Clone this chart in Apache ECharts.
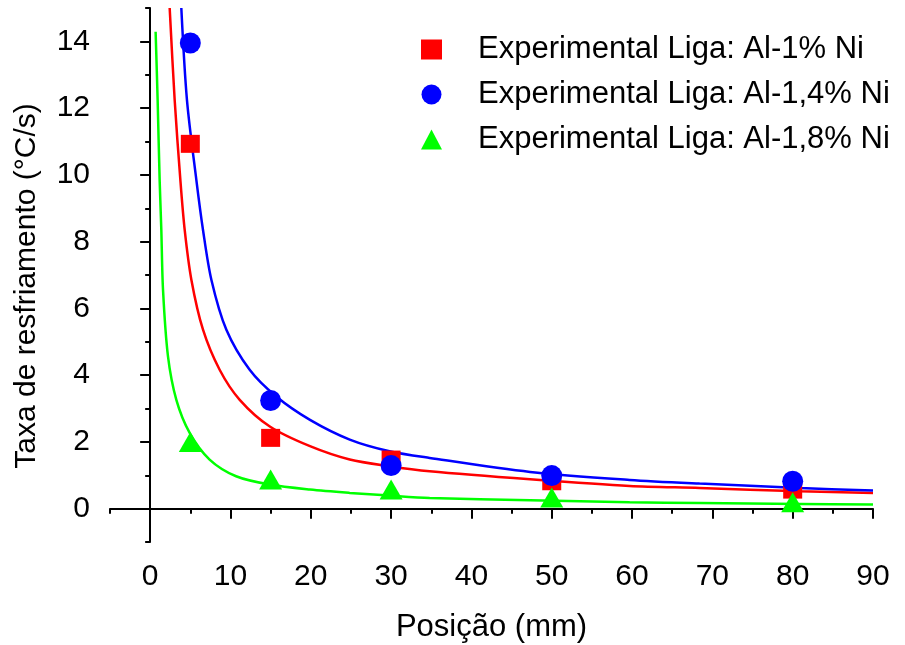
<!DOCTYPE html>
<html>
<head>
<meta charset="utf-8">
<script src="https://cdn.jsdelivr.net/npm/echarts@6/dist/echarts.min.js"></script>
<style>
  html, body { margin: 0; padding: 0; background: #fff; }
  #chart { width: 905px; height: 645px; }
</style>
</head>
<body>
<div id="chart"></div>
<script>
// pontos experimentais (posição em mm)
var positions = [5, 15, 30, 50, 80];
var rate1 = [10.93, 2.12, 1.47, 0.82, 0.57];   // Al-1% Ni
var rate14 = [13.95, 3.24, 1.29, 0.99, 0.82];  // Al-1,4% Ni
var rate18 = [2.0, 0.87, 0.57, 0.33, 0.19];    // Al-1,8% Ni

// curvas ajustadas
var fit1X = [2.43, 3.05, 3.76, 4.3, 5.13, 6.58, 8.65, 11.15, 14.9, 19.9, 24.85, 29.8, 34.8, 47.3, 59.7, 68.4, 80.9, 90];
var fit1Y = [15, 12.25, 9.85, 8.35, 6.86, 5.36, 4.16, 3.26, 2.46, 1.87, 1.47, 1.27, 1.12, 0.88, 0.68, 0.62, 0.52, 0.47];
var fit14X = [3.88, 4.58, 5.75, 6.58, 7.62, 9.49, 12.39, 15.7, 19.9, 24.85, 29.8, 34.8, 47.3, 59.7, 68.4, 80.9, 90];
var fit14Y = [15, 12.25, 9.85, 8.35, 6.86, 5.36, 4.16, 3.36, 2.66, 2.07, 1.72, 1.52, 1.1, 0.86, 0.75, 0.62, 0.54];
var fit18X = [0.68, 0.93, 1.18, 1.39, 1.6, 2.22, 3.26, 4.92, 7.4, 10.7, 14.9, 19.9, 24.85, 29.8, 34.8, 47.3, 59.7, 68.4, 80.9, 90];
var fit18Y = [14.29, 12.25, 9.85, 8.35, 6.56, 4.56, 3.26, 2.27, 1.47, 0.97, 0.72, 0.57, 0.47, 0.39, 0.32, 0.25, 0.19, 0.17, 0.14, 0.12];

var xMajorTicks = [0, 10, 20, 30, 40, 50, 60, 70, 80, 90];
var yMajorTicks = [0, 2, 4, 6, 8, 10, 12, 14];

var names = ['Experimental Liga: Al-1% Ni', 'Experimental Liga: Al-1,4% Ni', 'Experimental Liga: Al-1,8% Ni'];
var colors = ['#ff0000', '#0000ff', '#00ff00'];

function pairs(xs, ys) {
  return xs.map(function (x, i) { return [x, ys[i]]; });
}

var font = 'Liberation Sans, Arial, sans-serif';
var myChart = echarts.init(document.getElementById('chart'));

var axisLineStyle = { color: '#000', width: 2 };

var option = {
  animation: false,
  backgroundColor: '#fff',
  grid: { left: 110, right: 32, top: 8, bottom: 103, outerBoundsMode: 'none' },
  legend: {
    left: 416,
    top: 29,
    orient: 'vertical',
    itemWidth: 21,
    itemHeight: 20,
    itemGap: 14,
    data: [
      { name: names[0], icon: 'rect' },
      { name: names[1], icon: 'circle' },
      { name: names[2], icon: 'triangle' }
    ],
    textStyle: { fontFamily: font, fontSize: 31, color: '#000', lineHeight: 31, padding: [0, 0, 0, 31] }
  },
  xAxis: [
    {
      type: 'value', min: -5, max: 90, position: 'bottom',
      name: 'Posição (mm)', nameLocation: 'middle', nameGap: 70,
      nameTextStyle: { fontFamily: font, fontSize: 31, color: '#000' },
      axisLine: { lineStyle: axisLineStyle },
      axisTick: { customValues: xMajorTicks, length: 10, lineStyle: { width: 2, color: '#000' } },
      axisLabel: { customValues: xMajorTicks, fontFamily: font, fontSize: 30, color: '#000', margin: 20 },
      splitLine: { show: false }
    },
    {
      type: 'value', min: -5, max: 90, interval: 5, position: 'bottom', gridIndex: 0,
      axisLine: { show: false },
      axisTick: { length: 5, lineStyle: { width: 2, color: '#000' } },
      axisLabel: { show: false },
      splitLine: { show: false }
    }
  ],
  yAxis: [
    {
      type: 'value', min: -1, max: 15, position: 'left',
      name: 'Taxa de resfriamento (°C/s)', nameLocation: 'middle', nameGap: 68,
      nameTextStyle: { fontFamily: font, fontSize: 30, color: '#000', padding: [0, 22, 0, 0] },
      axisLine: { show: true, lineStyle: axisLineStyle },
      axisTick: { show: true, customValues: yMajorTicks, length: 10, lineStyle: { width: 2, color: '#000' } },
      axisLabel: { customValues: yMajorTicks, fontFamily: font, fontSize: 30, color: '#000', margin: 20 },
      splitLine: { show: false }
    },
    {
      type: 'value', min: -1, max: 15, interval: 1, position: 'left', gridIndex: 0,
      axisLine: { show: false },
      axisTick: { show: true, length: 5, lineStyle: { width: 2, color: '#000' } },
      axisLabel: { show: false },
      splitLine: { show: false }
    }
  ],
  series: [
    { name: 'fit1', type: 'line', data: pairs(fit1X, fit1Y), showSymbol: false, smooth: 0.3,
      lineStyle: { color: colors[0], width: 2.5 }, z: 2, silent: true },
    { name: 'fit14', type: 'line', data: pairs(fit14X, fit14Y), showSymbol: false, smooth: 0.3,
      lineStyle: { color: colors[1], width: 2.5 }, z: 2, silent: true },
    { name: 'fit18', type: 'line', data: pairs(fit18X, fit18Y), showSymbol: false, smooth: 0.3,
      lineStyle: { color: colors[2], width: 2.5 }, z: 2, silent: true },
    { name: names[0], type: 'scatter', data: pairs(positions, rate1), symbol: 'rect', symbolSize: [19, 18],
      itemStyle: { color: colors[0], opacity: 1 }, z: 3 },
    { name: names[1], type: 'scatter', data: pairs(positions, rate14), symbol: 'circle', symbolSize: 21,
      itemStyle: { color: colors[1], opacity: 1 }, z: 4 },
    { name: names[2], type: 'scatter', data: pairs(positions, rate18), symbol: 'triangle', symbolSize: [23, 20],
      itemStyle: { color: colors[2], opacity: 1 }, z: 5 }
  ]
};

myChart.setOption(option);
window.addEventListener('resize', function () { myChart.resize(); });
</script>
</body>
</html>
